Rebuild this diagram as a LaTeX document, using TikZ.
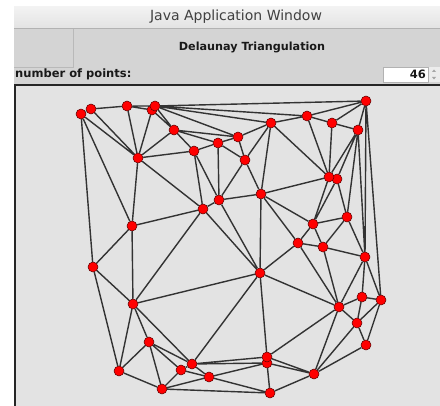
\documentclass[tikz,border=0pt]{standalone}
\usepackage{fontspec}
\setmainfont{DejaVu Sans}

\definecolor{frame}{HTML}{D4D4D4}
\definecolor{canvas}{HTML}{E3E3E3}
\definecolor{wire}{HTML}{333333}

\tikzstyle{site} = [circle, draw=black!65!red, fill=red, line width=0.5pt, minimum size=10pt, inner sep=0pt]
\tikzstyle{wires} = [draw=wire, line width=1.4pt]
\tikzstyle{titletext} = [font=\fontsize{14}{16}\selectfont, text=black!75, inner sep=0pt]
\tikzstyle{boldtext} = [font=\bfseries\fontsize{11.5}{14}\selectfont, text=black!90, inner sep=0pt]

\begin{document}
\begin{tikzpicture}[x=1pt, y=-1pt]
\useasboundingbox (0,0) rectangle (440,406);
\fill[white] (0,0) rectangle (440,406);
% window
\fill[top color=gray!10, bottom color=gray!22] (14,7) rectangle (440,28);
\fill[frame] (14,28) rectangle (440,84);
\draw[gray!60] (14,28) -- (440,28);
\draw[gray!55] (73,29) -- (73,67) -- (14,67);
\node[titletext] (title) at (236,17) {Java Application Window};
\node[boldtext, font=\bfseries\fontsize{11.2}{14}\selectfont] (heading) at (252,47) {Delaunay Triangulation};
\node[boldtext, anchor=west] (count) at (15,74) {number of points:};
\fill[white] (383,67) rectangle (428,82);
\draw[gray!60] (383,67) rectangle (428,82);
\node[boldtext, anchor=east] (value) at (426,74) {46};
\fill[gray!15] (429,67) rectangle (440,82);
\fill[gray!70] (432,72) -- (434,69.5) -- (436,72) -- cycle;
\fill[gray!70] (432,77) -- (434,79.5) -- (436,77) -- cycle;
% drawing area
\fill[canvas] (14,84) rectangle (440,406);
\draw[line width=2pt, black!85] (15,406) -- (15,85) -- (440,85);

\node[site] (p1) at (81,114) {};
\node[site] (p2) at (91,109) {};
\node[site] (p3) at (127,106) {};
\node[site] (p5) at (152,110) {};
\node[site] (p4) at (155,106) {};
\node[site] (p6) at (174,130) {};
\node[site] (p7) at (138,158) {};
\node[site] (p8) at (194,151) {};
\node[site] (p9) at (218,143) {};
\node[site] (p10) at (238,137) {};
\node[site] (p11) at (245,160) {};
\node[site] (p12) at (271,123) {};
\node[site] (p13) at (366,101) {};
\node[site] (p14) at (307,116) {};
\node[site] (p15) at (332,123) {};
\node[site] (p16) at (358,130) {};
\node[site] (p17) at (261,194) {};
\node[site] (p18) at (219,200) {};
\node[site] (p19) at (203,209) {};
\node[site] (p21) at (337,179) {};
\node[site] (p20) at (329,177) {};
\node[site] (p22) at (347,217) {};
\node[site] (p23) at (313,224) {};
\node[site] (p24) at (298,243) {};
\node[site] (p25) at (323,247) {};
\node[site] (p26) at (365,257) {};
\node[site] (p27) at (260,273) {};
\node[site] (p28) at (339,307) {};
\node[site] (p29) at (362,297) {};
\node[site] (p30) at (381,300) {};
\node[site] (p31) at (357,323) {};
\node[site] (p32) at (366,345) {};
\node[site] (p34) at (267,363) {};
\node[site] (p33) at (267,357) {};
\node[site] (p35) at (314,374) {};
\node[site] (p36) at (270,393) {};
\node[site] (p37) at (149,342) {};
\node[site] (p38) at (119,371) {};
\node[site] (p39) at (192,364) {};
\node[site] (p40) at (181,370) {};
\node[site] (p41) at (209,377) {};
\node[site] (p42) at (162,389) {};
\node[site] (p43) at (132,226) {};
\node[site] (p44) at (93,267) {};
\node[site] (p45) at (133,304) {};

\draw[wires]
    (p1) -- (p2) (p1) -- (p7) (p1) -- (p43) (p1) -- (p44)
    (p2) -- (p3) (p2) -- (p7)
    (p3) -- (p4) (p3) -- (p5) (p3) -- (p7)
    (p4) -- (p6) (p4) -- (p10) (p4) -- (p12) (p4) -- (p14) (p4) -- (p13)
    (p5) -- (p6) (p5) -- (p7)
    (p6) -- (p7) (p6) -- (p8) (p6) -- (p9) (p6) -- (p10)
    (p7) -- (p8) (p7) -- (p19) (p7) -- (p43)
    (p8) -- (p9) (p8) -- (p18) (p8) -- (p19)
    (p9) -- (p10) (p9) -- (p11) (p9) -- (p18)
    (p10) -- (p11) (p10) -- (p12)
    (p11) -- (p12) (p11) -- (p17) (p11) -- (p18)
    (p12) -- (p14) (p12) -- (p17) (p12) -- (p20)
    (p13) -- (p14) (p13) -- (p15) (p13) -- (p16) (p13) -- (p26) (p13) -- (p30)
    (p14) -- (p15) (p14) -- (p20)
    (p15) -- (p16) (p15) -- (p20)
    (p16) -- (p20) (p16) -- (p21) (p16) -- (p22) (p16) -- (p26)
    (p17) -- (p18) (p17) -- (p20) (p17) -- (p23) (p17) -- (p24) (p17) -- (p27)
    (p18) -- (p19) (p18) -- (p27)
    (p19) -- (p27) (p19) -- (p43) (p19) -- (p45)
    (p20) -- (p23)
    (p21) -- (p22) (p21) -- (p23)
    (p22) -- (p23) (p22) -- (p25) (p22) -- (p26)
    (p23) -- (p24) (p23) -- (p25)
    (p24) -- (p25) (p24) -- (p27) (p24) -- (p28)
    (p25) -- (p26) (p25) -- (p28)
    (p26) -- (p28) (p26) -- (p29) (p26) -- (p30)
    (p27) -- (p28) (p27) -- (p33) (p27) -- (p39) (p27) -- (p45)
    (p28) -- (p29) (p28) -- (p31) (p28) -- (p33) (p28) -- (p35)
    (p29) -- (p30) (p29) -- (p31)
    (p30) -- (p31) (p30) -- (p32)
    (p31) -- (p32) (p31) -- (p35)
    (p32) -- (p35)
    (p33) -- (p35) (p33) -- (p39)
    (p34) -- (p35) (p34) -- (p36) (p34) -- (p39) (p34) -- (p41)
    (p35) -- (p36)
    (p36) -- (p41) (p36) -- (p42)
    (p37) -- (p38) (p37) -- (p39) (p37) -- (p40) (p37) -- (p42) (p37) -- (p45)
    (p38) -- (p42) (p38) -- (p44) (p38) -- (p45)
    (p39) -- (p40) (p39) -- (p41) (p39) -- (p45)
    (p40) -- (p41) (p40) -- (p42)
    (p41) -- (p42)
    (p43) -- (p44) (p43) -- (p45)
    (p44) -- (p45);
\end{tikzpicture}
\end{document}
